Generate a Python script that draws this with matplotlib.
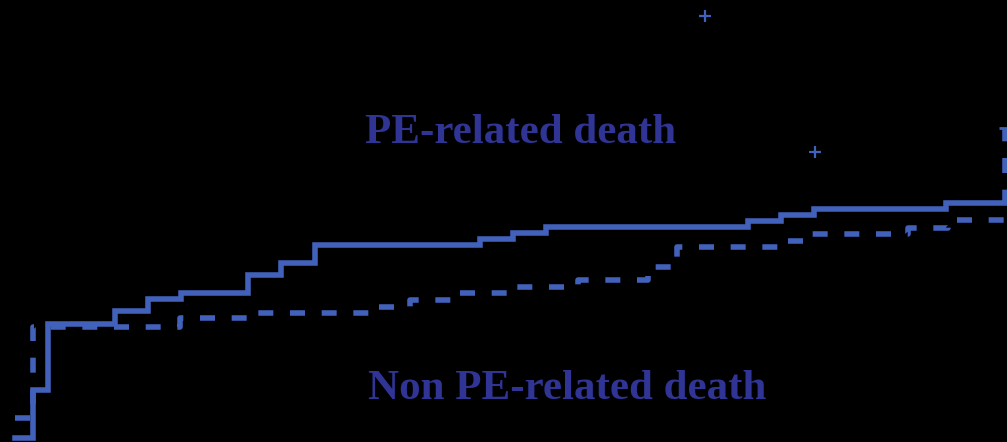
import matplotlib
matplotlib.use("Agg")
import matplotlib.pyplot as plt

# time in days, cumulative incidence in %
pe_time = [0, 5.5, 10, 30.3, 40.3, 50.3, 70.6, 80.6, 90.9, 141, 151, 161, 222, 232, 242, 282, 305]
pe_inc = [0.4, 5.2, 11.8, 13.1, 14.3, 14.9, 16.7, 17.9, 19.7, 20.3, 20.9, 21.5, 22.1, 22.7, 23.3, 23.9, 23.9]

non_time = [0, 5.5, 50, 71.2, 108, 119.7, 132.7, 150, 170.6, 191.8, 200.6, 231.2, 240, 270.6, 282.7, 300]
non_inc = [2.4, 11.5, 12.4, 12.9, 13.5, 14.2, 14.9, 15.5, 16.2, 17.5, 19.5, 20.1, 20.8, 21.4, 22.2, 31.4]

censor_time = [209.1, 242.4]
censor_inc = [42.6, 29.0]

label_pe = "PE-related death"
label_non = "Non PE-related death"

line_color = "#4261bb"
text_color = "#2f3495"

fig = plt.figure(figsize=(10.07, 4.42), dpi=100)
fig.patch.set_facecolor("black")
ax = fig.add_axes([0, 0, 1, 1])
ax.set_facecolor("black")

ax.plot(pe_time, pe_inc, drawstyle="steps-post", color=line_color, lw=4.0,
        solid_joinstyle="miter")
ln, = ax.plot(non_time, non_inc, drawstyle="steps-post", color=line_color, lw=4.0,
              dash_capstyle="butt")
ln.set_dashes([2.7, 3.0])
ax.plot([non_time[-1]], [non_inc[-1]], marker="_", color=line_color, ms=8, mew=2)
ax.plot(censor_time, censor_inc, "+", color=line_color, ms=9, mew=1.6)

ax.text(153.3, 29.9, label_pe, color=text_color, fontsize=31, fontweight="bold",
        family="Liberation Serif", ha="center", va="baseline")
ax.text(167.4, 4.3, label_non, color=text_color, fontsize=31, fontweight="bold",
        family="Liberation Serif", ha="center", va="baseline")

ax.set_xlim(-15 / 3.3, 992 / 3.3)
ax.set_ylim(0, 44.2)
ax.axis("off")

fig.savefig("out.png", dpi=100, facecolor="black")
